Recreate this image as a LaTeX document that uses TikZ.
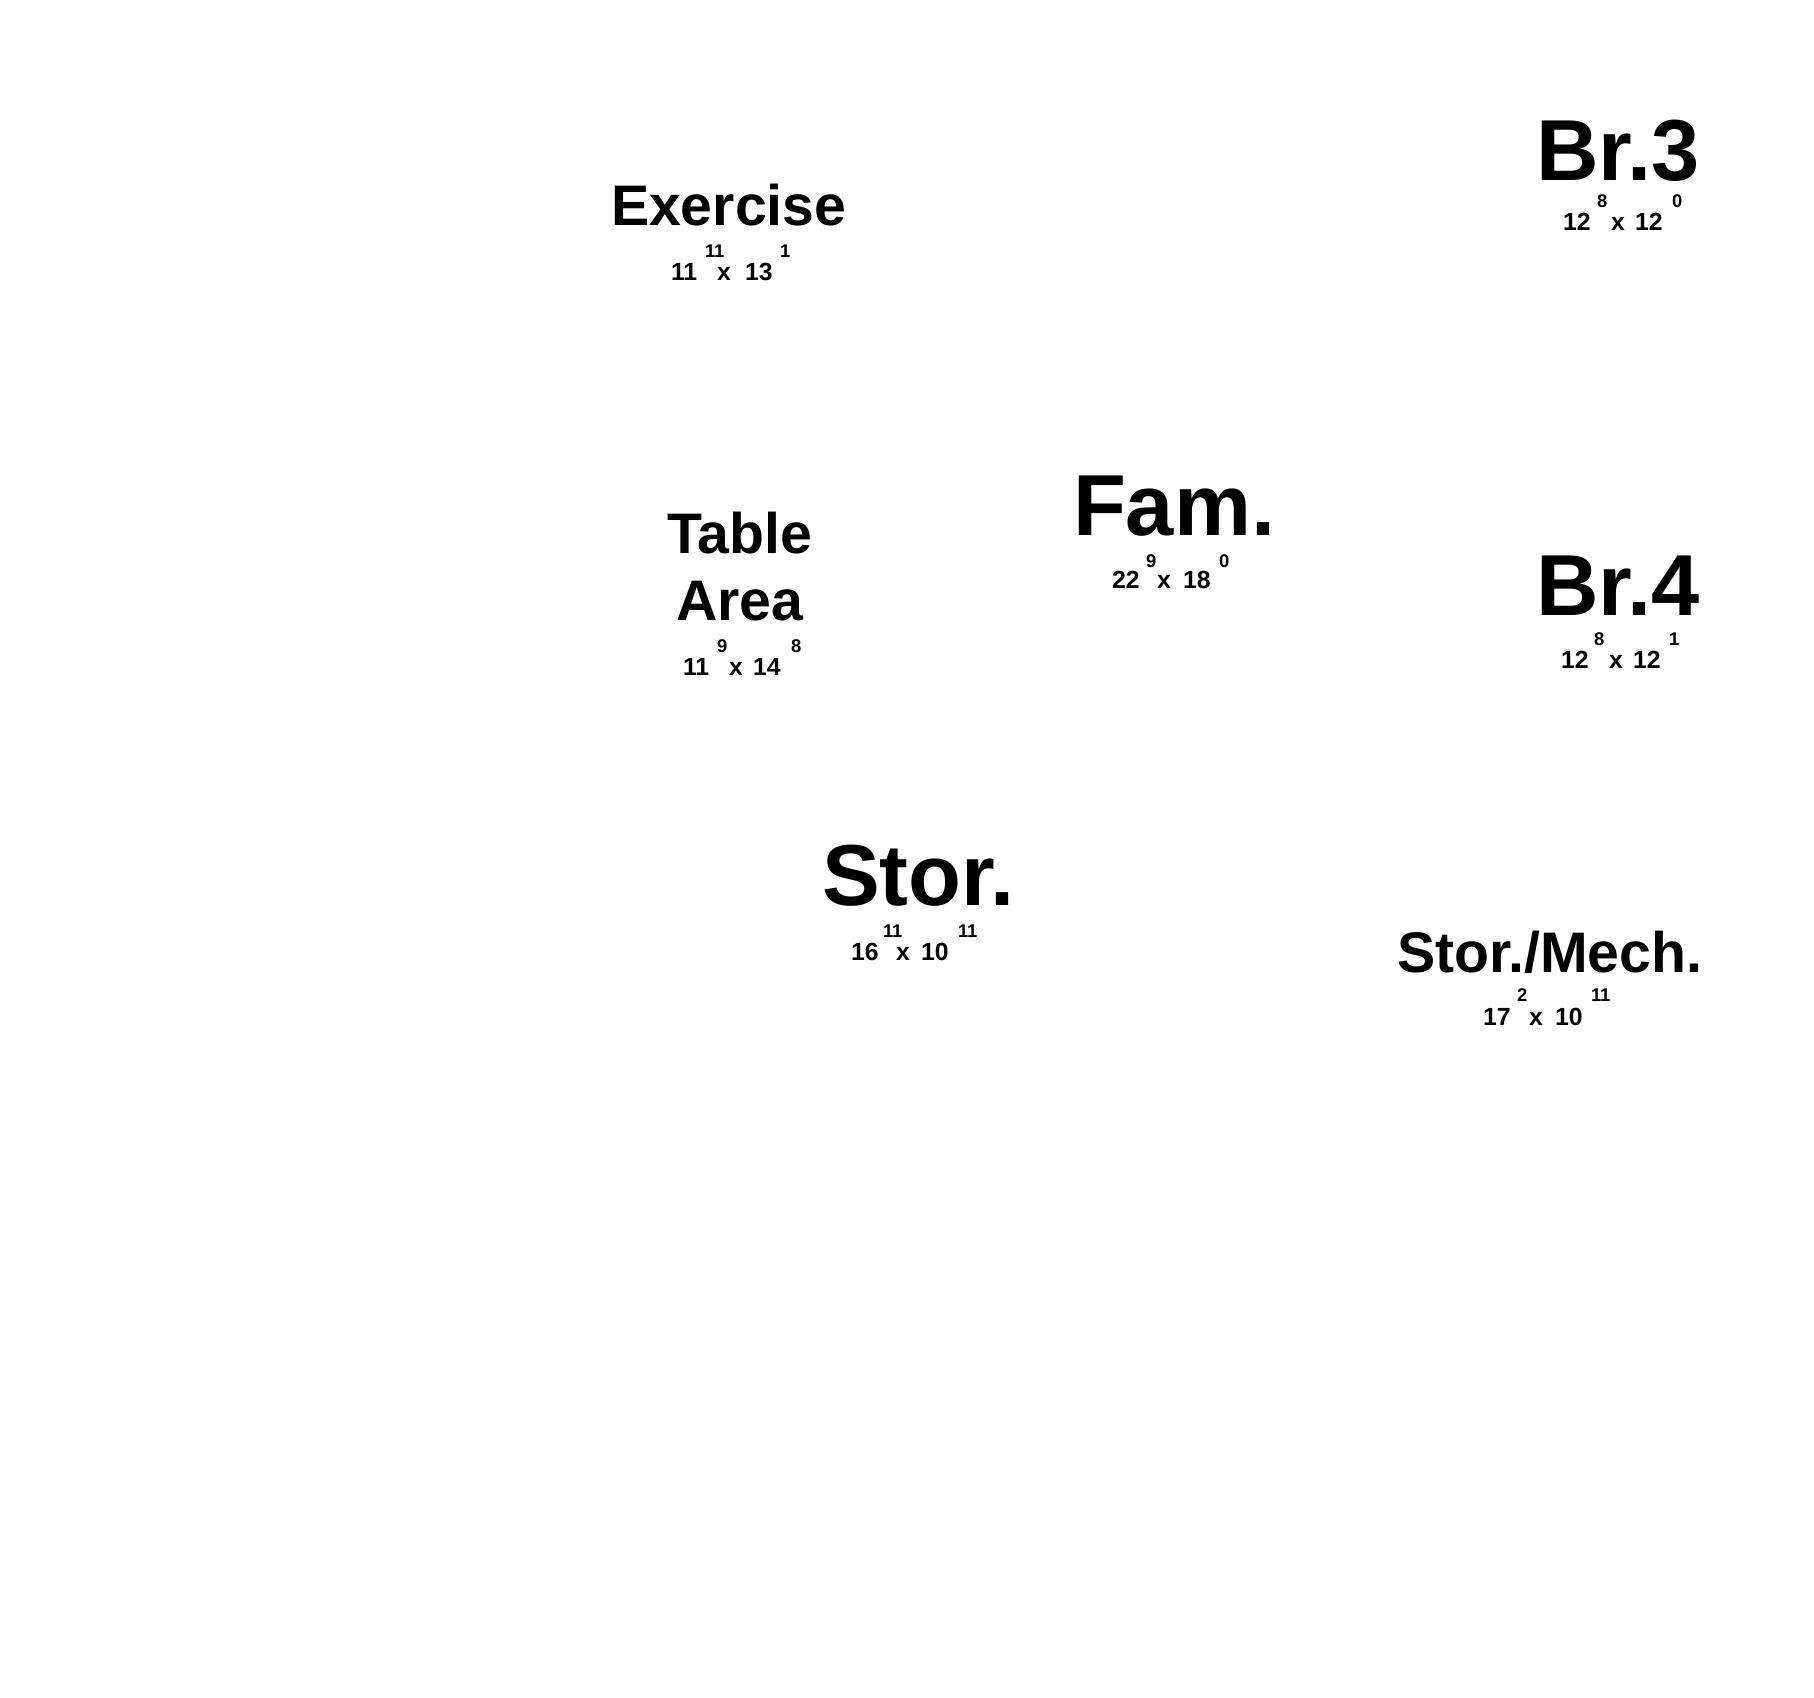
\documentclass[tikz,border=0pt]{standalone}
\usepackage{fontspec}
\setmainfont{Liberation Sans}
\begin{document}
\begin{tikzpicture}[x=0.5pt,y=-0.5pt,
  every node/.style={anchor=base west,inner sep=0pt,outer sep=0pt},
  nmXL/.style={font=\fontsize{43.3}{46}\selectfont\bfseries,text depth=0pt},
  nmL/.style={font=\fontsize{28.6}{30}\selectfont\bfseries,text depth=0pt},
  dimt/.style={font=\fontsize{12.4}{14}\selectfont\bfseries,text depth=0pt,text height=8.8pt},
  supt/.style={font=\fontsize{9.2}{10}\selectfont\bfseries,text depth=0pt}]
\useasboundingbox (0,0) rectangle (1814,1697);
% Exercise
\node[nmL] (exN) at (611,225) {Exercise};
\node[dimt] (exA) at (671,280) {11};
\node[dimt] (exX) at (717,280) {x};
\node[dimt] (exB) at (745,280) {13};
\node[supt] (exS1) at (705,257) {11};
\node[supt] (exS2) at (780,257) {1};
% Br.3
\node[nmXL] (b3N) at (1536,180) {Br.3};
\node[dimt] (b3A) at (1563,230) {12};
\node[dimt] (b3X) at (1611,230) {x};
\node[dimt] (b3B) at (1635,230) {12};
\node[supt] (b3S1) at (1597,207) {8};
\node[supt] (b3S2) at (1672,207) {0};
% Fam.
\node[nmXL] (faN) at (1073,535) {Fam.};
\node[dimt] (faA) at (1112,588) {22};
\node[dimt] (faX) at (1157,588) {x};
\node[dimt] (faB) at (1183,588) {18};
\node[supt] (faS1) at (1146,567) {9};
\node[supt] (faS2) at (1219,567) {0};
% Br.4
\node[nmXL] (b4N) at (1536,615) {Br.4};
\node[dimt] (b4A) at (1561,668) {12};
\node[dimt] (b4X) at (1609,668) {x};
\node[dimt] (b4B) at (1633,668) {12};
\node[supt] (b4S1) at (1594,645) {8};
\node[supt] (b4S2) at (1669,645) {1};
% Table Area
\node[nmL] (taN1) at (667,553) {Table};
\node[nmL] (taN2) at (676,620) {Area};
\node[dimt] (taA) at (683,675) {11};
\node[dimt] (taX) at (729,675) {x};
\node[dimt] (taB) at (753,675) {14};
\node[supt] (taS1) at (717,652) {9};
\node[supt] (taS2) at (791,652) {8};
% Stor.
\node[nmXL] (stN) at (822,905) {Stor.};
\node[dimt] (stA) at (851,960) {16};
\node[dimt] (stX) at (896,960) {x};
\node[dimt] (stB) at (921,960) {10};
\node[supt] (stS1) at (883,937) {11};
\node[supt] (stS2) at (958,937) {11};
% Stor./Mech.
\node[nmL] (smN) at (1397,972) {Stor./Mech.};
\node[dimt] (smA) at (1483,1025) {17};
\node[dimt] (smX) at (1529,1025) {x};
\node[dimt] (smB) at (1555,1025) {10};
\node[supt] (smS1) at (1517,1001) {2};
\node[supt] (smS2) at (1591,1001) {11};
\end{tikzpicture}
\end{document}
